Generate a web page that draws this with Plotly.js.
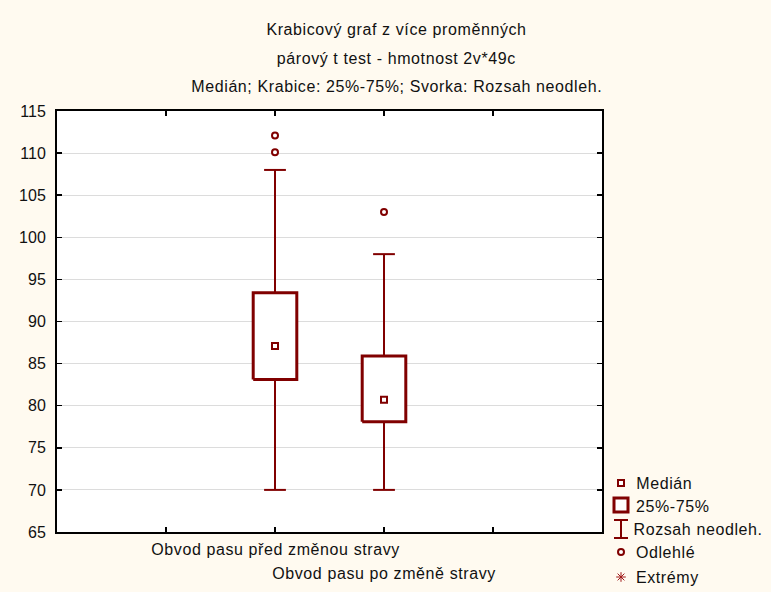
<!DOCTYPE html>
<html>
<head>
<meta charset="utf-8">
<script src="https://cdn.plot.ly/plotly-3.0.1.min.js"></script>
<style>
  html, body { margin: 0; padding: 0; background: #FFFAF0; }
  #chart { width: 771px; height: 592px; }
  #chart .annotation-text { letter-spacing: 0.6px; }
</style>
</head>
<body>
<div id="chart"></div>
<script>
// Box-plot statistics per variable (median, quartiles, non-outlier range, outliers)
const categories = ['Obvod pasu před změnou stravy', 'Obvod pasu po změně stravy'];
const medians = [87.1, 80.7];
const q1 = [83.1, 78.1];
const q3 = [93.4, 85.9];
const rangeLow = [70, 70];
const rangeHigh = [108, 98];
const outliers = [[110.1, 112.1], [103]];

const titleLines = [
  'Krabicový graf z více proměnných',
  'párový t test - hmotnost 2v*49c',
  'Medián; Krabice: 25%-75%; Svorka: Rozsah neodleh.'
];
const legendLabels = ['Medián', '25%-75%', 'Rozsah neodleh.', 'Odlehlé', 'Extrémy'];
const yTicks = [65, 70, 75, 80, 85, 90, 95, 100, 105, 110, 115];

// Styling
const W = 771, H = 592;
const RED = '#800000';
const FONT = 'Liberation Sans, Arial, sans-serif';
const FS = 16;
const plotL = 57, plotR = 602, plotT = 111, plotB = 532;
const boxHalf = 0.2, capHalf = 0.1;
const posOf = i => i + 2;   // category i sits on x = i + 2 within range [0, 5]

const traces = [];

// Whiskers with caps
categories.forEach((c, i) => {
  const p = posOf(i);
  traces.push({
    type: 'scatter', mode: 'lines', xaxis: 'x', yaxis: 'y',
    x: [p, p, null, p, p, null, p - capHalf, p + capHalf, null, p - capHalf, p + capHalf],
    y: [rangeLow[i], q1[i], null, q3[i], rangeHigh[i], null, rangeLow[i], rangeLow[i], null, rangeHigh[i], rangeHigh[i]],
    line: { color: RED, width: 2 }, hoverinfo: 'skip', showlegend: false
  });
});

// Boxes (25%-75%)
categories.forEach((c, i) => {
  const p = posOf(i);
  traces.push({
    type: 'scatter', mode: 'lines', xaxis: 'x', yaxis: 'y',
    x: [p - boxHalf, p + boxHalf, p + boxHalf, p - boxHalf, p - boxHalf],
    y: [q1[i], q1[i], q3[i], q3[i], q1[i]],
    fill: 'toself', fillcolor: 'white',
    line: { color: RED, width: 3 }, name: c, showlegend: false
  });
});

// Medians
traces.push({
  type: 'scatter', mode: 'markers', xaxis: 'x', yaxis: 'y',
  x: categories.map((c, i) => posOf(i)), y: medians,
  marker: { symbol: 'square', size: 6, color: 'white', line: { color: RED, width: 2 } },
  showlegend: false
});

// Outliers
const ox = [], oy = [];
outliers.forEach((arr, i) => arr.forEach(v => { ox.push(posOf(i)); oy.push(v); }));
traces.push({
  type: 'scatter', mode: 'markers', xaxis: 'x', yaxis: 'y',
  x: ox, y: oy,
  marker: { symbol: 'circle', size: 6, color: 'white', line: { color: RED, width: 2 } },
  showlegend: false, cliponaxis: false
});

// Key glyphs, drawn on a pixel-scaled overlay axis pair
const keyX = 621, keyTextX = 636;
const keyY = [483, 506, 529, 552, 577];
traces.push({
  type: 'scatter', mode: 'markers', xaxis: 'x2', yaxis: 'y2',
  x: [keyX], y: [keyY[0]],
  marker: { symbol: 'square', size: 6, color: 'white', line: { color: RED, width: 2 } },
  showlegend: false, hoverinfo: 'skip'
});
traces.push({
  type: 'scatter', mode: 'markers', xaxis: 'x2', yaxis: 'y2',
  x: [keyX], y: [keyY[1] - 1],
  marker: { symbol: 'square', size: 14, color: 'white', line: { color: RED, width: 3 } },
  showlegend: false, hoverinfo: 'skip'
});
traces.push({
  type: 'scatter', mode: 'lines', xaxis: 'x2', yaxis: 'y2',
  x: [keyX, keyX, null, keyX - 7, keyX + 7, null, keyX - 7, keyX + 7],
  y: [keyY[2] - 9, keyY[2] + 9, null, keyY[2] - 9, keyY[2] - 9, null, keyY[2] + 9, keyY[2] + 9],
  line: { color: RED, width: 2 }, showlegend: false, hoverinfo: 'skip'
});
traces.push({
  type: 'scatter', mode: 'markers', xaxis: 'x2', yaxis: 'y2',
  x: [keyX], y: [keyY[3]],
  marker: { symbol: 'circle', size: 6, color: 'white', line: { color: RED, width: 2 } },
  showlegend: false, hoverinfo: 'skip'
});
traces.push({
  type: 'scatter', mode: 'markers', xaxis: 'x2', yaxis: 'y2',
  x: [keyX], y: [keyY[4]],
  marker: { symbol: 'asterisk-open', size: 8, color: '#a01818', line: { color: '#a01818', width: 1 } },
  showlegend: false, hoverinfo: 'skip'
});

const annotations = [];
titleLines.forEach((t, i) => {
  annotations.push({
    text: t, xref: 'paper', yref: 'paper', x: 397 / W, y: 1 - [30, 58, 87][i] / H,
    xanchor: 'center', yanchor: 'middle', showarrow: false,
    font: { family: FONT, size: FS, color: '#111' }
  });
});
categories.forEach((c, i) => {
  annotations.push({
    text: c, xref: 'x', yref: 'paper', x: posOf(i), y: 1 - [549, 573][i % 2] / H,
    xanchor: 'center', yanchor: 'middle', showarrow: false,
    font: { family: FONT, size: FS, color: '#111' }
  });
});
legendLabels.forEach((t, i) => {
  annotations.push({
    text: t, xref: 'x2', yref: 'y2', x: keyTextX, y: keyY[i],
    xanchor: 'left', yanchor: 'middle', showarrow: false,
    font: { family: FONT, size: FS, color: '#111' }
  });
});

const axisFrame = {
  showline: true, linecolor: '#000', linewidth: 2, mirror: 'ticks',
  ticks: 'inside', ticklen: 5, tickwidth: 1.5, tickcolor: '#000', zeroline: false
};

const layout = {
  width: W, height: H,
  margin: { l: 0, r: 0, t: 0, b: 0, pad: 0 },
  paper_bgcolor: '#FFFAF0',
  plot_bgcolor: 'rgba(0,0,0,0)',
  font: { family: FONT, size: FS, color: '#111' },
  showlegend: false,
  xaxis: Object.assign({}, axisFrame, {
    domain: [plotL / W, plotR / W], anchor: 'y',
    range: [0, 5], tickvals: [1, 2, 3, 4], showticklabels: false, showgrid: false
  }),
  yaxis: Object.assign({}, axisFrame, {
    domain: [1 - plotB / H, 1 - plotT / H], anchor: 'x',
    range: [65, 115], tickvals: yTicks, showgrid: true, gridcolor: '#dcdcdc', gridwidth: 1,
    ticklabelstandoff: 6, tickfont: { family: FONT, size: FS, color: '#111' }
  }),
  xaxis2: { domain: [0, 1], range: [0, W], anchor: 'y2', visible: false, fixedrange: true },
  yaxis2: { domain: [0, 1], range: [H, 0], anchor: 'x2', visible: false, fixedrange: true },
  shapes: [{
    type: 'rect', xref: 'x domain', yref: 'y domain', x0: 0, x1: 1, y0: 0, y1: 1,
    fillcolor: 'white', line: { width: 0 }, layer: 'below'
  }],
  annotations: annotations
};

Plotly.newPlot('chart', traces, layout, { staticPlot: true, displayModeBar: false });
</script>
</body>
</html>
